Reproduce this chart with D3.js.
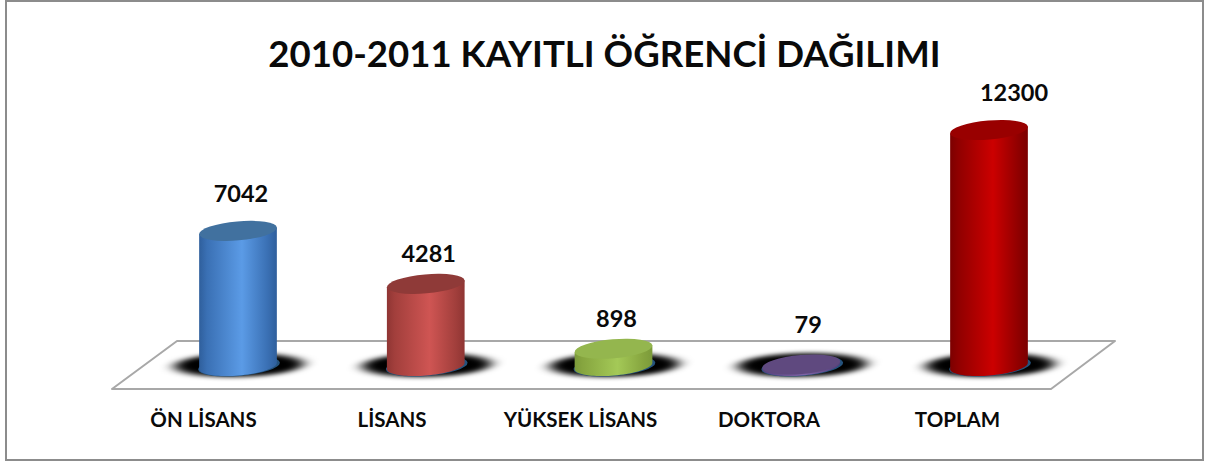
<!DOCTYPE html>
<html><head><meta charset="utf-8">
<script src="https://cdn.jsdelivr.net/npm/d3@7"></script>
<style>html,body{margin:0;background:#fff}svg{display:block}text{font-family:Lato,"Open Sans",sans-serif;font-weight:700;fill:#0a0a0a}</style>
</head><body><svg id="c" width="1208" height="464"></svg>
<script>
const chartTitle = "2010-2011 KAYITLI ÖĞRENCİ DAĞILIMI";
const categories = ["ÖN LİSANS","LİSANS","YÜKSEK LİSANS","DOKTORA","TOPLAM"];
const values = [7042,4281,898,79,12300];
const sideStops = [["#2f5f9c","#5b9be6","#3a70b4"],["#8f3533","#cf5553","#a23f3c"],["#7b9a3a","#a4c957","#86a53f"],["#53407a","#7f64a6","#5d4785"],["#7c0000","#cc0000","#8f0000"]];
const capColors = ["#41719f","#8f3a38","#94b64e","#5f497f","#990000"];
const labelShiftX = [3,3,3,7,25];
const labelShiftY = [0,7,7,-2,0];

const baseY=366,rx=39,ry=9.5,tilt=-5;
const svg=d3.select("#c");
const x=d3.scalePoint().domain(categories).range([238,989]);
const xLabel=d3.scalePoint().domain(categories).range([203,957]);
const y=d3.scaleLinear().domain([0,12300]).range([baseY,130]);
const defs=svg.append("defs");
defs.append("filter").attr("id","blur").attr("x","-30%").attr("y","-80%").attr("width","160%").attr("height","260%")
  .append("feGaussianBlur").attr("stdDeviation","7 2.2");
sideStops.forEach((s,i)=>{
  const g=defs.append("linearGradient").attr("id","side"+i);
  [[0,s[0]],[.1,s[2]],[.55,s[1]],[.88,s[2]],[1,s[0]]].forEach(d=>g.append("stop").attr("offset",d[0]).attr("stop-color",d[1]));
});

// frame
svg.append("rect").attr("x",6).attr("y",1).attr("width",1197).attr("height",459)
  .attr("fill","#fff").attr("stroke","#8c8c8c").attr("stroke-width",2);

// floor
svg.append("path").attr("d",d3.line()([[112,389],[177,341],[1115,341],[1051,389]])+"Z")
  .attr("fill","#fff").attr("stroke","#a8a8a8").attr("stroke-width",2).attr("stroke-linejoin","round");

// shadows
const bars=svg.selectAll("g.bar").data(categories).join("g").attr("class","bar");
bars.append("ellipse").attr("transform",d=>`translate(${x(d)+1},${baseY-1}) skewX(-30)`)
  .attr("rx",rx+25).attr("ry",ry+2.5).attr("fill","#000").attr("filter","url(#blur)");
bars.append("ellipse").attr("transform",d=>`translate(${x(d)+1},${baseY}) rotate(${tilt})`)
  .attr("rx",rx+2).attr("ry",ry+.5).attr("fill","#24527c");

// cylinders: outline sampled along the tilted base ellipse
const t=tilt*Math.PI/180;
function onEllipse(cx,cy,a){
  const ex=rx*Math.cos(a),ey=ry*Math.sin(a);
  return [cx+ex*Math.cos(t)-ey*Math.sin(t),cy+ex*Math.sin(t)+ey*Math.cos(t)];
}
function sidePath(d,i){
  const top=y(values[i]),cx=x(d),pts=[];
  for(let k=0;k<=40;k++) pts.push(onEllipse(cx,baseY,Math.PI-k*Math.PI/40));
  pts.push(onEllipse(cx,top,0));
  pts.push(onEllipse(cx,top,Math.PI));
  return d3.line()(pts)+"Z";
}
bars.append("path").attr("d",sidePath).attr("fill",(d,i)=>`url(#side${i})`);
bars.append("ellipse").attr("transform",(d,i)=>`translate(${x(d)},${y(values[i])}) rotate(${tilt})`)
  .attr("rx",rx).attr("ry",ry).attr("fill",(d,i)=>capColors[i]);

// value labels
bars.append("text").attr("x",(d,i)=>x(d)+labelShiftX[i]).attr("y",(d,i)=>y(values[i])-29+labelShiftY[i])
  .attr("text-anchor","middle").attr("font-size",23.5).text((d,i)=>values[i]);

// category labels
const axis=svg.append("g").attr("transform","translate(0,420)")
  .call(d3.axisBottom(xLabel).tickSize(0).tickPadding(0));
axis.select(".domain").remove();
axis.selectAll("text").attr("font-size",20.5).attr("dy","0.35em").attr("y",0).attr("font-family",null);

// title
svg.append("text").attr("x",604.5).attr("y",67).attr("text-anchor","middle").attr("font-size",36.6).text(chartTitle);
</script></body></html>
